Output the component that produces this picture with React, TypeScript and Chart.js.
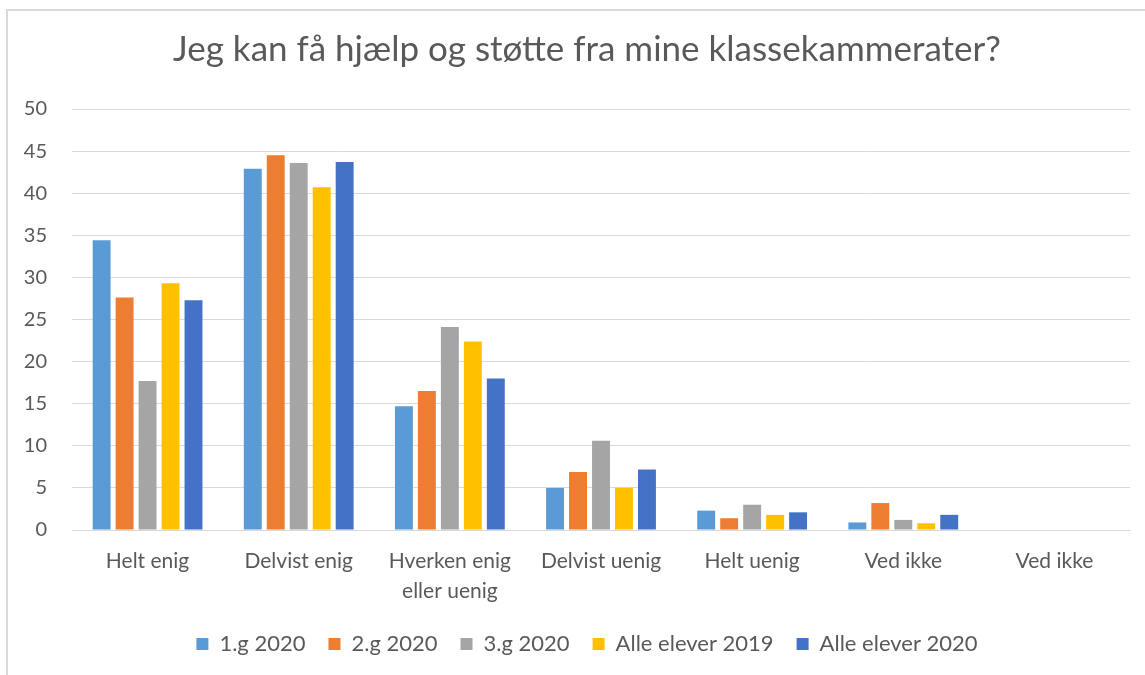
import React, { useEffect, useRef } from "react";
import { Chart, registerables } from "chart.js";

Chart.register(...registerables);

const titleText = "Jeg kan få hjælp og støtte fra mine klassekammerater?";
const categories: (string | string[])[] = [
  "Helt enig",
  "Delvist enig",
  ["Hverken enig", "eller uenig"],
  "Delvist uenig",
  "Helt uenig",
  "Ved ikke",
  "Ved ikke",
];
const seriesNames = ["1.g 2020", "2.g 2020", "3.g 2020", "Alle elever 2019", "Alle elever 2020"];
const seriesColors = ["#5B9BD5", "#ED7D31", "#A5A5A5", "#FFC000", "#4472C4"];
const g1_2020 = [34.4, 42.9, 14.7, 5.0, 2.3, 0.9, 0];
const g2_2020 = [27.6, 44.5, 16.5, 6.9, 1.4, 3.2, 0];
const g3_2020 = [17.7, 43.6, 24.1, 10.6, 3.0, 1.2, 0];
const alle2019 = [29.3, 40.7, 22.4, 5.0, 1.8, 0.8, 0];
const alle2020 = [27.3, 43.7, 18.0, 7.2, 2.1, 1.8, 0];
const seriesValues = [g1_2020, g2_2020, g3_2020, alle2019, alle2020];
const yMin = 0;
const yMax = 50;
const yStep = 5;

const FONT = "Lato, 'Open Sans', sans-serif";
const TEXT = "#595959";
const GRID = "#D9D9D9";

const shiftBlocks = {
  id: "shiftBlocks",
  afterLayout(chart: any) {
    if (chart.titleBlock) chart.titleBlock.left += 44;
    if (chart.legend) chart.legend.left += 44;
  },
};

export default function App() {
  const ref = useRef<HTMLCanvasElement | null>(null);
  useEffect(() => {
    if (!ref.current) return;
    const chart = new Chart(ref.current, {
      type: "bar",
      data: {
        labels: categories,
        datasets: seriesNames.map((name, i) => ({
          label: name,
          data: seriesValues[i],
          backgroundColor: seriesColors[i],
          borderWidth: 0,
          categoryPercentage: 0.76,
          barPercentage: 0.78,
        })),
      },
      plugins: [shiftBlocks],
      options: {
        animation: false,
        responsive: false,
        maintainAspectRatio: false,
        layout: { padding: { left: 0, right: 15, top: 0, bottom: 10 } },
        plugins: {
          title: {
            display: true,
            text: titleText,
            color: TEXT,
            font: { family: FONT, size: 35, weight: "normal", lineHeight: 1.2 },
            padding: { top: 29, bottom: 38 },
          },
          legend: {
            position: "bottom",
            labels: {
              color: TEXT,
              font: { family: FONT, size: 22 },
              boxWidth: 12,
              boxHeight: 12,
              padding: 23,
            },
          },
          tooltip: { enabled: false },
        },
        scales: {
          x: {
            grid: { display: false, drawTicks: false },
            border: { display: true, color: GRID, width: 1 },
            ticks: {
              color: TEXT,
              font: { family: FONT, size: 21, lineHeight: 1.45 },
              padding: 16,
              maxRotation: 0,
              autoSkip: false,
            },
            afterFit: (s: any) => {
              s.height = 80;
            },
          },
          y: {
            min: yMin,
            max: yMax,
            grid: { color: GRID, drawTicks: false, lineWidth: 1 },
            border: { display: false },
            ticks: {
              stepSize: yStep,
              color: TEXT,
              font: { family: FONT, size: 20 },
              padding: 25,
            },
            afterFit: (s: any) => {
              s.width = 72;
            },
          },
        },
      },
    });
    return () => chart.destroy();
  }, []);
  return (
    <div>
      <div
        style={{
          position: "fixed",
          left: 6,
          top: 9,
          width: 1300,
          height: 800,
          borderLeft: "2px solid #D9D9D9",
          borderTop: "2px solid #D9D9D9",
          background: "#fff",
        }}
      />
      <canvas
        ref={ref}
        width={1145}
        height={675}
        style={{ position: "fixed", left: 0, top: 0, width: 1145, height: 675 }}
      />
    </div>
  );
}
